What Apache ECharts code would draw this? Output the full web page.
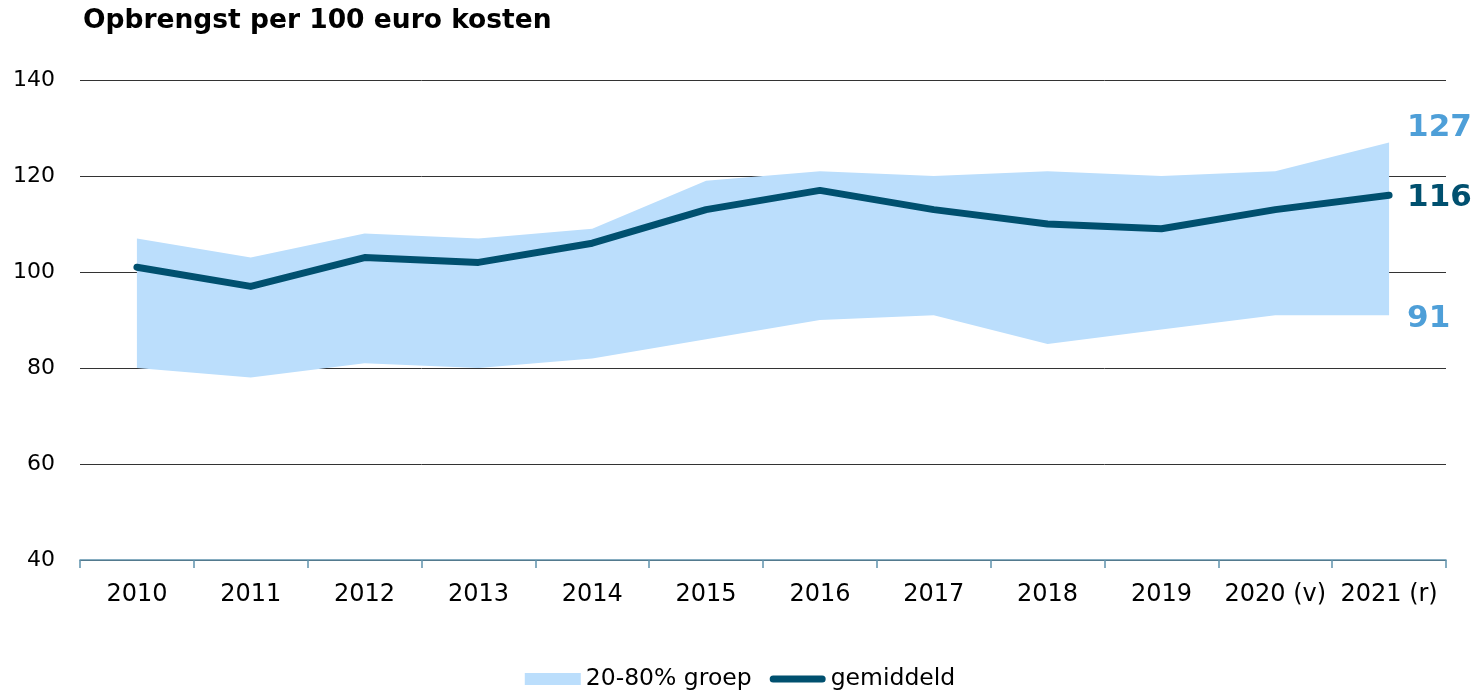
<!DOCTYPE html>
<html>
<head>
<meta charset="utf-8">
<script src="https://cdn.jsdelivr.net/npm/echarts@6/dist/echarts.min.js"></script>
<style>
  html, body { margin: 0; padding: 0; background: #fff; }
  #chart { width: 1480px; height: 692px; }
</style>
</head>
<body>
<div id="chart"></div>
<script>
// jaren op de x-as
const years = ['2010', '2011', '2012', '2013', '2014', '2015', '2016', '2017', '2018', '2019', '2020 (v)', '2021 (r)']
// 20% grens en 80% grens van de groep
const lower = [80, 78, 81, 80, 82, 86, 90, 91, 85, 88, 91, 91]
const upper = [107, 103, 108, 107, 109, 119, 121, 120, 121, 120, 121, 127]
// gemiddelde
const mean = [101, 97, 103, 102, 106, 113, 117, 113, 110, 109, 113, 116]

const FONT = 'DejaVu Sans'
const BAND = '#bbdefc'
const LINE = '#00506f'
const LABEL_BLUE = '#4e9fd8'
const last = years.length - 1

const chart = echarts.init(document.getElementById('chart'))

// bandbreedte als stapel: onderkant transparant, daarboven het verschil
const bandDiff = upper.map((v, i) => v - lower[i])

// eindlabel rechts van het laatste punt
const endLabel = (text, color, offsetY) => ({
  show: true,
  distance: 18,
  offset: [0, offsetY],
  formatter: () => text,
  color: color,
  fontFamily: FONT,
  fontWeight: 'bold',
  fontSize: 31
})

// lijn-icoon voor de legenda (dunne afgeronde balk, bbox 56x12)
const lineIcon = 'path://M0,0 L0.01,0 L0,0.01 Z M56,12 L55.99,12 L56,11.99 Z ' +
  'M3.5,2.5 H52.5 A3.5,3.5 0 0 1 52.5,9.5 H3.5 A3.5,3.5 0 0 1 3.5,2.5 Z'

chart.setOption({
  animation: false,
  textStyle: { fontFamily: FONT },
  title: {
    text: 'Opbrengst per 100 euro kosten',
    left: 78,
    top: 3,
    textStyle: { fontFamily: FONT, fontWeight: 'bold', fontSize: 26.5, color: '#000' }
  },
  legend: {
    top: 662,
    left: 'center',
    itemGap: 18,
    itemWidth: 56,
    itemHeight: 12,
    textStyle: { fontFamily: FONT, fontSize: 23.5, color: '#000' },
    data: [
      { name: '20-80% groep', icon: 'rect', itemStyle: { color: BAND } },
      { name: 'gemiddeld', icon: lineIcon, itemStyle: { color: LINE } }
    ]
  },
  grid: { left: 80, right: 34, top: 80, bottom: 132 },
  xAxis: {
    type: 'category',
    data: years,
    boundaryGap: true,
    axisLine: { lineStyle: { color: '#5f93ad', width: 1.5 } },
    axisTick: { show: true, length: 8, interval: 0, lineStyle: { color: '#5f93ad', width: 1.5 } },
    axisLabel: { color: '#000', fontSize: 24, margin: 23, interval: 0, fontFamily: FONT }
  },
  yAxis: {
    type: 'value',
    min: 40,
    max: 140,
    interval: 20,
    axisLine: { show: false },
    axisTick: { show: false },
    axisLabel: { color: '#000', fontSize: 22, margin: 25, fontFamily: FONT },
    splitLine: { lineStyle: { color: '#333', width: 1 } }
  },
  series: [
    {
      name: 'ondergrens',
      type: 'line',
      stack: 'band',
      data: lower,
      symbol: 'none',
      lineStyle: { opacity: 0 },
      areaStyle: { opacity: 0 },
      endLabel: endLabel(String(lower[last]), LABEL_BLUE, 4),
      z: 2
    },
    {
      name: '20-80% groep',
      type: 'line',
      stack: 'band',
      data: bandDiff,
      symbol: 'none',
      itemStyle: { color: BAND },
      lineStyle: { opacity: 0 },
      areaStyle: { color: BAND, opacity: 1 },
      endLabel: endLabel(String(upper[last]), LABEL_BLUE, -14),
      z: 2
    },
    {
      name: 'gemiddeld',
      type: 'line',
      data: mean,
      symbol: 'none',
      itemStyle: { color: LINE },
      lineStyle: { color: LINE, width: 7, cap: 'round', join: 'round' },
      endLabel: endLabel(String(mean[last]), LINE, 3),
      z: 3
    }
  ]
})
</script>
</body>
</html>
